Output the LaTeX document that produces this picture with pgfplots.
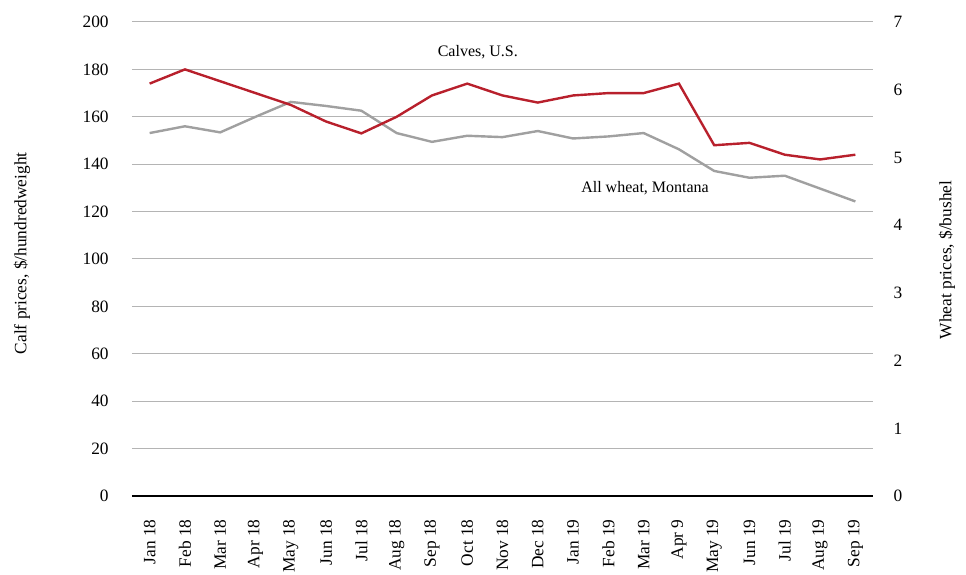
\documentclass[border=0pt]{standalone}
\usepackage{fontspec}
\setmainfont{Liberation Serif}
\usepackage{pgfplots}
\usepackage{pgfplotstable}
\pgfplotsset{compat=1.18}

\definecolor{calfred}{HTML}{B8202C}
\definecolor{wheatgray}{HTML}{A0A0A0}
\definecolor{gridgray}{HTML}{B4B4B4}

% Monthly prices, Jan 2018 (0) to Sep 2019 (20)
\pgfplotstableread{
m calf
0 174
1 180
2 175
3 170
4 165
5 158
6 153
7 160
8 169
9 174
10 169
11 166
12 169
13 170
14 170
15 174
16 148
17 149
18 144
19 142
20 144
}\calves

\pgfplotstableread{
m wheat
0 5.36
1 5.46
2 5.37
3 5.60
4 5.82
5 5.76
6 5.69
7 5.36
8 5.23
9 5.32
10 5.30
11 5.39
12 5.28
13 5.31
14 5.36
15 5.12
16 4.80
17 4.70
18 4.73
19 4.54
20 4.35
}\wheat

\pgfplotsset{
  common/.style={
    scale only axis,
    width=555.75pt, height=355.5pt,
    at={(0,0)}, anchor=south west,
    xmin=-0.5, xmax=20.5,
    major tick length=0pt,
    ticklabel style={font=\fontsize{13}{15}\selectfont},
    label style={font=\fontsize{13}{15}\selectfont},
    /pgf/number format/assume math mode=true,
  },
}

\begin{document}
\begin{tikzpicture}
\useasboundingbox (-99pt,-58.5pt) rectangle (625.5pt,372pt);

% Left scale: grid, calf ticks, month labels
\begin{axis}[common,
  ymin=0, ymax=200, ytick={0,20,...,200},
  axis x line*=bottom, axis y line*=left,
  y axis line style={draw=none},
  x axis line style={black, line width=1.1pt, -},
  ymajorgrids, grid style={gridgray, line width=0.75pt},
  xtick={0,...,20},
  xticklabels={Jan 18,Feb 18,Mar 18,Apr 18,May 18,Jun 18,Jul 18,Aug 18,Sep 18,Oct 18,Nov 18,Dec 18,Jan 19,Feb 19,Mar 19,Apr 9,May 19,Jun 19,Jul 19,Aug 19,Sep 19},
  xticklabel style={rotate=90, anchor=east},
  xticklabel shift=14pt,
  yticklabel style={xshift=-14pt},
  ylabel={Calf prices, \$/hundredweight},
  ylabel style={at={(axis description cs:-0.1485,0.512)}, anchor=center},
]
\end{axis}

% Right scale: wheat
\begin{axis}[common,
  ymin=0, ymax=7, ytick={0,...,7},
  axis y line*=right, hide x axis,
  y axis line style={draw=none},
  yticklabel style={xshift=12pt},
  ylabel={Wheat prices, \$/bushel},
  ylabel style={at={(axis description cs:1.0999,0.498)}, anchor=center},
]
\addplot[wheatgray, line width=1.8pt] table[x=m, y=wheat]{\wheat};
\end{axis}

% Calves on the left scale, drawn on top
\begin{axis}[common, ymin=0, ymax=200, hide axis]
\addplot[calfred, line width=1.8pt] table[x=m, y=calf]{\calves};
\node[font=\fontsize{12}{14}\selectfont] at (axis cs:9.3,187.3) {Calves, U.S.};
\node[font=\fontsize{12}{14}\selectfont] at (axis cs:14.04,130) {All wheat, Montana};
\end{axis}
\end{tikzpicture}
\end{document}
